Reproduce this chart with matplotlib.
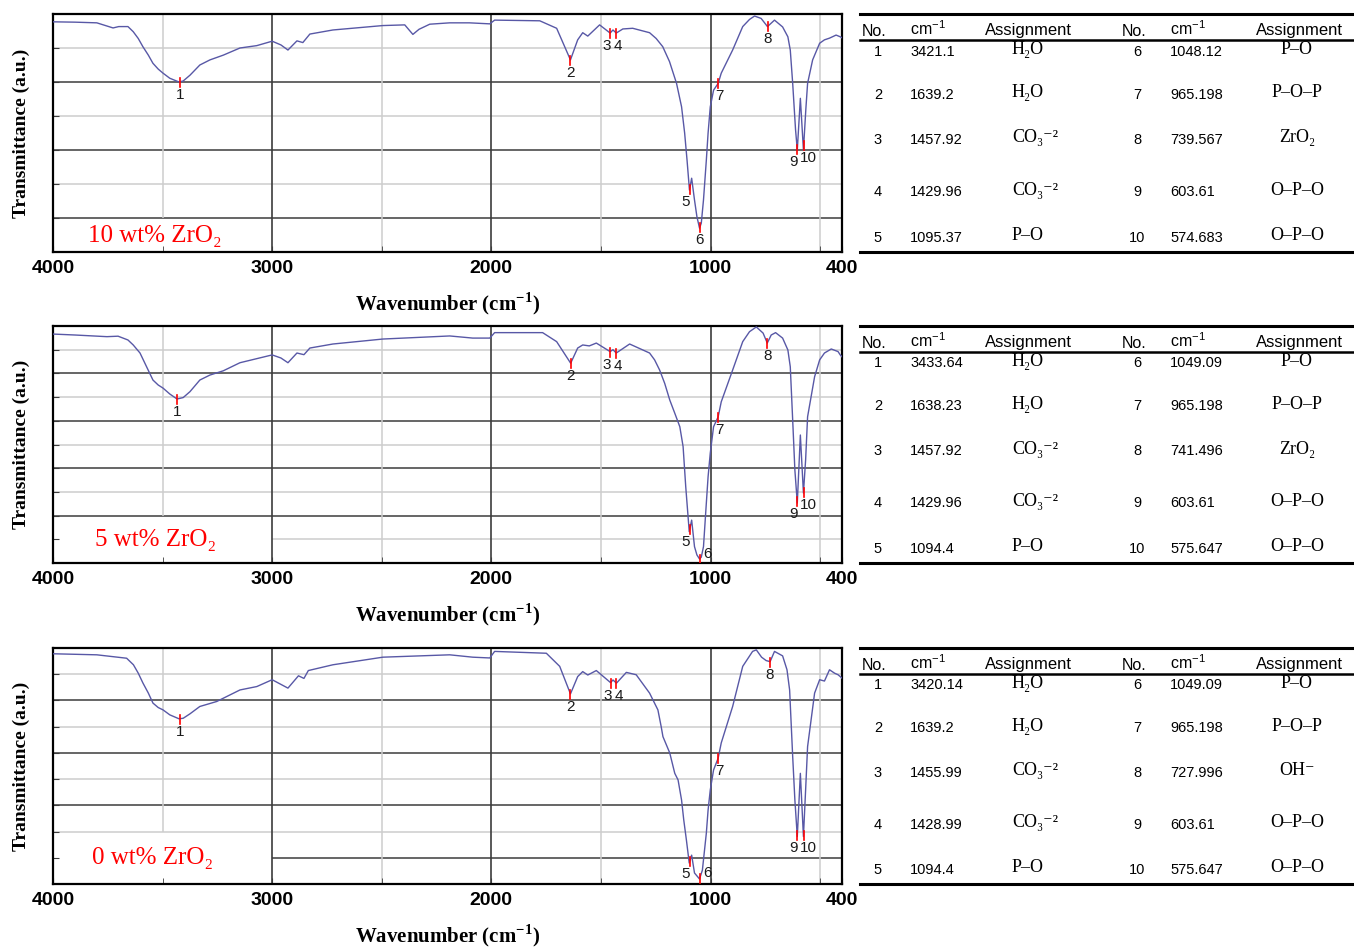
import numpy as np
import matplotlib
matplotlib.use("Agg")
import matplotlib.pyplot as plt

# FTIR spectra: wavenumber (cm-1) and transmittance in grid units
wn_10 = [4000, 3900, 3800, 3726, 3700, 3658, 3634, 3611, 3590, 3565,
         3544, 3520, 3498, 3467, 3425, 3406, 3375, 3330, 3284, 3223,
         3147, 3070, 3000, 2960, 2928, 2887, 2860, 2828, 2723, 2495,
         2395, 2358, 2330, 2281, 2190, 2100, 2007, 1985, 1779, 1702,
         1639, 1606, 1583, 1560, 1506, 1458, 1445, 1430, 1400, 1355,
         1278, 1248, 1218, 1187, 1155, 1132, 1118, 1107, 1096, 1086,
         1073, 1062, 1050, 1042, 1032, 1019, 1011, 1001, 986, 965,
         951, 899, 853, 822, 799, 769, 740, 708, 671, 647,
         636, 625, 612, 604, 590, 576, 565, 557, 534, 502,
         480, 457, 427, 408, 400]
tr_10 = [6.77, 6.76, 6.74, 6.59, 6.63, 6.63, 6.48, 6.28, 6.04, 5.79,
         5.55, 5.38, 5.26, 5.11, 5.0, 5.03, 5.2, 5.5, 5.65, 5.79,
         6.0, 6.07, 6.2, 6.09, 5.94, 6.21, 6.16, 6.41, 6.53, 6.66,
         6.68, 6.4, 6.55, 6.7, 6.74, 6.74, 6.71, 6.82, 6.8, 6.58,
         5.65, 6.24, 6.45, 6.35, 6.68, 6.44, 6.53, 6.44, 6.56, 6.58,
         6.45, 6.28, 6.04, 5.6, 4.96, 4.27, 3.5, 2.7, 1.82, 2.17,
         1.53, 1.04, 0.7, 0.85, 1.53, 2.7, 3.5, 4.27, 4.76, 4.96,
         5.26, 5.94, 6.63, 6.84, 6.94, 6.87, 6.63, 6.82, 6.62, 6.33,
         5.94, 4.96, 3.6, 3.0, 4.52, 3.0, 4.2, 4.96, 5.65, 6.14,
         6.24, 6.29, 6.38, 6.33, 6.3]

wn_5 = [4000, 3900, 3754, 3703, 3658, 3634, 3603, 3573, 3544, 3520,
        3498, 3467, 3434, 3406, 3375, 3330, 3284, 3223, 3147, 3000,
        2960, 2928, 2887, 2855, 2828, 2723, 2495, 2190, 2085, 2007,
        1985, 1766, 1702, 1638, 1606, 1583, 1553, 1521, 1458, 1445,
        1430, 1369, 1278, 1255, 1232, 1209, 1186, 1163, 1140, 1125,
        1113, 1097, 1086, 1073, 1062, 1050, 1042, 1032, 1019, 1011,
        1001, 986, 965, 951, 899, 853, 822, 791, 760, 741,
        723, 703, 671, 647, 636, 625, 615, 604, 590, 576,
        566, 557, 525, 502, 480, 449, 418, 408, 400]
tr_5 = [9.66, 9.62, 9.55, 9.57, 9.41, 9.2, 8.86, 8.28, 7.72, 7.51,
        7.38, 7.13, 6.92, 6.98, 7.23, 7.72, 7.93, 8.11, 8.45, 8.78,
        8.65, 8.45, 8.86, 8.79, 9.07, 9.24, 9.45, 9.58, 9.49, 9.49,
        9.72, 9.72, 9.34, 8.43, 9.07, 9.2, 9.16, 9.28, 8.92, 9.0,
        8.86, 9.24, 8.86, 8.57, 8.14, 7.58, 6.88, 6.32, 5.75, 4.91,
        3.22, 1.32, 1.81, 0.69, 0.34, 0.17, 0.25, 0.69, 2.53, 3.64,
        4.64, 5.75, 6.17, 6.8, 8.14, 9.34, 9.76, 9.96, 9.7, 9.28,
        9.62, 9.72, 9.49, 8.99, 8.28, 6.03, 3.92, 2.53, 5.4, 2.95,
        4.35, 6.17, 7.86, 8.57, 8.86, 9.03, 8.92, 8.78, 8.7]

wn_0 = [4000, 3900, 3800, 3664, 3633, 3611, 3590, 3565, 3544, 3520,
        3498, 3467, 3425, 3406, 3375, 3330, 3253, 3147, 3070, 3000,
        2928, 2880, 2855, 2835, 2723, 2495, 2190, 2085, 2007, 1985,
        1749, 1688, 1639, 1606, 1583, 1560, 1521, 1456, 1445, 1429,
        1384, 1339, 1278, 1240, 1225, 1217, 1186, 1163, 1148, 1132,
        1122, 1110, 1097, 1086, 1073, 1050, 1037, 1019, 1011, 1001,
        986, 965, 951, 899, 853, 808, 791, 767, 746, 728,
        708, 671, 651, 639, 625, 615, 604, 590, 576, 566,
        557, 525, 502, 480, 457, 434, 418, 408, 400]
tr_0 = [8.78, 8.76, 8.74, 8.61, 8.36, 8.04, 7.67, 7.28, 6.9, 6.73,
        6.64, 6.45, 6.3, 6.32, 6.49, 6.77, 6.96, 7.4, 7.53, 7.79,
        7.47, 7.94, 7.84, 8.14, 8.36, 8.65, 8.74, 8.65, 8.62, 8.87,
        8.8, 8.3, 7.25, 7.91, 8.1, 7.97, 8.14, 7.68, 7.78, 7.66,
        8.07, 7.98, 7.28, 6.64, 6.0, 5.62, 5.0, 4.22, 3.97, 3.2,
        2.44, 1.68, 0.8, 1.1, 0.42, 0.19, 0.53, 1.94, 2.82, 3.59,
        4.35, 4.8, 5.38, 6.77, 8.3, 8.87, 8.93, 8.65, 8.52, 8.48,
        8.87, 8.7, 8.17, 7.4, 4.86, 3.2, 1.81, 4.22, 1.81, 3.59,
        5.24, 7.28, 7.79, 7.74, 8.17, 8.04, 7.98, 7.91, 7.85]

# peak tables
peaks_10 = [3421.1, 1639.2, 1457.92, 1429.96, 1095.37, 1048.12, 965.198, 739.567, 603.61, 574.683]
peaks_5 = [3433.64, 1638.23, 1457.92, 1429.96, 1094.4, 1049.09, 965.198, 741.496, 603.61, 575.647]
peaks_0 = [3420.14, 1639.2, 1455.99, 1428.99, 1094.4, 1049.09, 965.198, 727.996, 603.61, 575.647]
assign_zr = ["H₂O", "H₂O", "CO₃⁻²", "CO₃⁻²", "P–O", "P–O", "P–O–P", "ZrO₂", "O–P–O", "O–P–O"]
assign_0 = ["H₂O", "H₂O", "CO₃⁻²", "CO₃⁻²", "P–O", "P–O", "P–O–P", "OH⁻", "O–P–O", "O–P–O"]
samples = ["10 wt% ZrO₂", "5 wt% ZrO₂", "0 wt% ZrO₂"]
grid_units = [7, 10, 9]

# layout (pixels) and style
W, H = 1354, 949
LEFT, RIGHT = 53, 842
tops = [14, 326, 648]
bottoms = [252, 563, 884]
box_top = [1, 2, 2]
name_pos = [(0.044, 0.067), (0.053, 0.097), (0.049, 0.11)]
label_dx = [0, 0, -3, 2, -4, 0, 1, 0, -4, 5]
LINE = "#5858a6"
DARK = "#3c3c3c"
LIGHT = "#cdcdcd"
SANS = ["Liberation Sans", "DejaVu Sans"]
SERIF = ["Liberation Serif", "DejaVu Serif"]

fig = plt.figure(figsize=(W / 100, H / 100), dpi=100)


def draw_spectrum(ax, wn, tr, n, btop, peaks, name, npos, h_px):
    wn = np.asarray(wn, float)
    tr = np.asarray(tr, float)
    ax.set_xlim(4000, 400)
    ax.set_ylim(0, n)
    for y in range(1, n):
        k = n - y
        col = DARK if k % 2 == 0 else LIGHT
        x0 = 3000 if y < btop else 4000
        ax.hlines(y, x0, 400, color=col, lw=1.1, zorder=1)
    for x in [2500, 1500, 500]:
        ax.vlines(x, 0, n, color=LIGHT, lw=1.1, zorder=1)
    ax.vlines(3500, btop, n, color=LIGHT, lw=1.1, zorder=1)
    for x in [3000, 2000, 1000]:
        ax.vlines(x, 0, n, color=DARK, lw=1.2, zorder=2)

    ax.plot(wn, tr, color=LINE, lw=1.0, zorder=3)

    u = n / h_px           # data units per pixel
    wx = 3600 / (RIGHT - LEFT)
    for i, p in enumerate(peaks):
        y = np.interp(p, wn[::-1], tr[::-1])
        ax.plot([p, p], [y + 4 * u, y - 5 * u], color="red", lw=1.2, zorder=4)
        if y / u - 7 < 13:
            ax.text(p - 4 * wx, y + 5 * u, str(i + 1), ha="left", va="center",
                    fontsize=11, family=SANS, color="#1a1a1a", zorder=5)
        else:
            ax.text(p - label_dx[i] * wx, y - 6 * u, str(i + 1), ha="center", va="top",
                    fontsize=11, family=SANS, color="#1a1a1a", zorder=5)

    ax.text(npos[0], npos[1], name, transform=ax.transAxes, ha="left", va="center",
            fontsize=18, family=SERIF, color="red", zorder=6)

    ax.set_xticks([4000, 3000, 2000, 1000, 400])
    ax.set_xticklabels(["4000", "3000", "2000", "1000", "400"])
    ax.set_xticks([3500, 2500, 1500, 500], minor=True)
    ax.set_yticks(range(1, n))
    ax.set_yticklabels([])
    ax.tick_params(axis="both", which="both", direction="in", length=4, color=DARK)
    ax.tick_params(axis="x", which="major", pad=6)
    for t in ax.get_xticklabels():
        t.set_fontsize(14)
        t.set_fontweight("bold")
        t.set_family(SANS)
    for s in ax.spines.values():
        s.set_linewidth(1.6)
        s.set_color("black")
    ax.set_xlabel(r"Wavenumber (cm$^{\mathregular{-1}}$)", fontsize=15,
                  fontweight="bold", family=SERIF)
    ax.xaxis.set_label_coords(0.5, -0.163)
    ax.set_ylabel("Transmittance (a.u.)", fontsize=14, fontweight="bold", family=SERIF)
    ax.yaxis.set_label_coords(-0.029, 0.5)


def draw_table(ax, peaks, assign):
    ax.set_xlim(0, 499)
    ax.set_ylim(1, 0)
    ax.axis("off")
    ax.plot([5, 499], [0, 0], color="black", lw=2.2, clip_on=False)
    ax.plot([5, 499], [0.109, 0.109], color="black", lw=1.8, clip_on=False)
    ax.plot([5, 499], [1, 1], color="black", lw=2.2, clip_on=False)
    hy = 0.088
    for x0 in [7, 267]:
        ax.text(x0, hy + 0.005, "No.", ha="left", va="baseline", fontsize=11.5, family=SANS)
    for x0 in [55, 315]:
        ax.text(x0, hy, r"cm$^{\mathregular{-1}}$", ha="left", va="baseline",
                fontsize=11.5, family=SANS)
    for x0 in [130, 401]:
        ax.text(x0, hy, "Assignment", ha="left", va="baseline", fontsize=12, family=SANS)
    rows = [0.155, 0.336, 0.525, 0.745, 0.937]
    for i in range(5):
        y = rows[i] + 0.02
        ax.text(23, y, str(i + 1), ha="center", va="baseline", fontsize=10.5, family=SANS)
        ax.text(55, y, str(peaks[i]), ha="left", va="baseline", fontsize=10.5, family=SANS)
        ax.text(157, y - 0.006, assign[i], ha="left", va="baseline", fontsize=13, family=SERIF)
        j = i + 5
        ax.text(282, y, str(j + 1), ha="center", va="baseline", fontsize=10.5, family=SANS)
        ax.text(315, y, str(peaks[j]), ha="left", va="baseline", fontsize=10.5, family=SANS)
        ax.text(442, y - 0.006, assign[j], ha="center", va="baseline", fontsize=13, family=SERIF)


spectra = [(wn_10, tr_10), (wn_5, tr_5), (wn_0, tr_0)]
peak_sets = [peaks_10, peaks_5, peaks_0]
assign_sets = [assign_zr, assign_zr, assign_0]

for i in range(3):
    h_px = bottoms[i] - tops[i]
    ax = fig.add_axes([LEFT / W, (H - bottoms[i]) / H, (RIGHT - LEFT) / W, h_px / H])
    draw_spectrum(ax, spectra[i][0], spectra[i][1], grid_units[i], box_top[i],
                  peak_sets[i], samples[i], name_pos[i], h_px)
    tab = fig.add_axes([855 / W, (H - bottoms[i]) / H, 499 / W, h_px / H])
    draw_table(tab, peak_sets[i], assign_sets[i])

fig.savefig("out.png", dpi=100)
